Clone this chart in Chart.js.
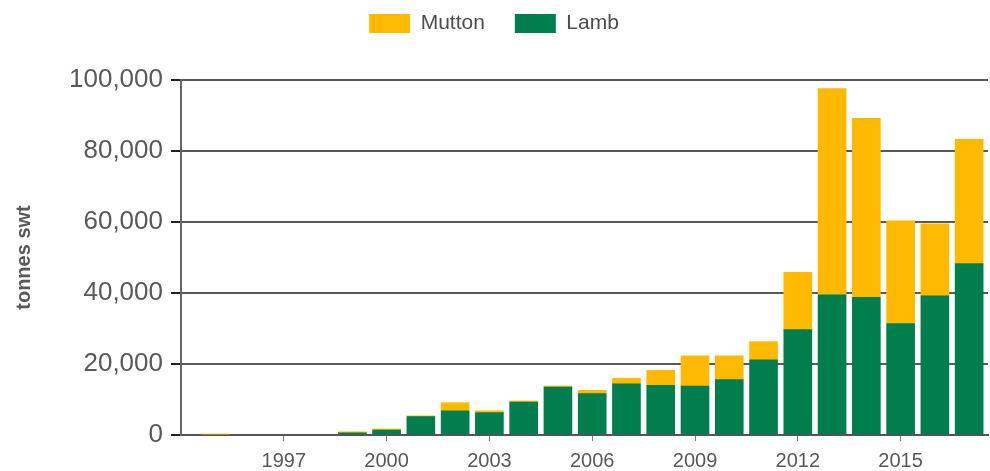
<!DOCTYPE html>
<html>
<head>
<meta charset="utf-8">
<script src="https://cdn.jsdelivr.net/npm/chart.js@4.4.1/dist/chart.umd.min.js"></script>
<style>
  html, body { margin: 0; padding: 0; background: #fff; }
  #wrap { width: 990px; height: 471px; }
</style>
</head>
<body>
<div id="wrap"><canvas id="c" width="990" height="471"></canvas></div>
<script>
const years = [1995,1996,1997,1998,1999,2000,2001,2002,2003,2004,2005,2006,2007,2008,2009,2010,2011,2012,2013,2014,2015,2016,2017];
const lamb = [null,null,null,null,600,1400,5200,6800,6300,9300,13500,11700,14400,14000,13800,15600,21200,29700,39500,38800,31400,39200,48300];
const mutton = [250,null,null,null,300,300,200,2300,500,300,300,900,1600,4200,8500,6700,5100,16100,58100,50400,28900,20300,35000];
const xTickYears = [1997,2000,2003,2006,2009,2012,2015];
const yTicks = [0,20000,40000,60000,80000,100000];

const legendGap = {
  id: 'legendGap',
  beforeInit(chart) {
    const orig = chart.legend.fit;
    chart.legend.fit = function () { orig.call(this); this.height += 36; };
  }
};

const grey = '#595959';
new Chart(document.getElementById('c'), {
  type: 'bar',
  data: {
    datasets: [
      { label: 'Lamb', data: years.map((y, i) => ({ x: y, y: lamb[i] })), backgroundColor: '#007E4E', barThickness: 28 },
      { label: 'Mutton', data: years.map((y, i) => ({ x: y, y: mutton[i] })), backgroundColor: '#FFB900', barThickness: 28 }
    ]
  },
  options: {
    responsive: false,
    animation: false,
    layout: { padding: { left: 0, right: 2, top: -17, bottom: -10 } },
    plugins: {
      legend: {
        reverse: true,
        labels: { boxWidth: 41, boxHeight: 19, padding: 30, color: '#4d4d4d', font: { family: 'Liberation Sans', size: 21 } }
      },
      tooltip: { enabled: false }
    },
    scales: {
      x: {
        type: 'linear',
        stacked: true,
        offset: false,
        min: 1994,
        max: 2017.55,
        afterBuildTicks: (scale) => { scale.ticks = xTickYears.map(v => ({ value: v })); },
        grid: { display: true, offset: false, drawOnChartArea: false, drawTicks: true, tickLength: 6, color: '#777', lineWidth: 1 },
        border: { color: '#555', width: 2 },
        ticks: { color: grey, padding: 8, font: { family: 'Liberation Sans', size: 20 }, callback: v => String(v), maxRotation: 0, autoSkip: false }
      },
      y: {
        stacked: true,
        min: 0,
        max: 100000,
        afterBuildTicks: (scale) => { scale.ticks = yTicks.map(v => ({ value: v })); },
        grid: { color: grey, lineWidth: 2, tickLength: 10, tickColor: '#222' },
        border: { color: '#666', width: 2 },
        ticks: { color: grey, padding: 8, font: { family: 'Liberation Sans', size: 26 }, callback: v => v.toLocaleString('en-US') },
        title: { display: true, text: 'tonnes swt', color: grey, font: { family: 'Liberation Sans', size: 20, weight: 'bold' }, padding: { top: 12, bottom: 25 } }
      }
    }
  },
  plugins: [legendGap]
});
</script>
</body>
</html>
